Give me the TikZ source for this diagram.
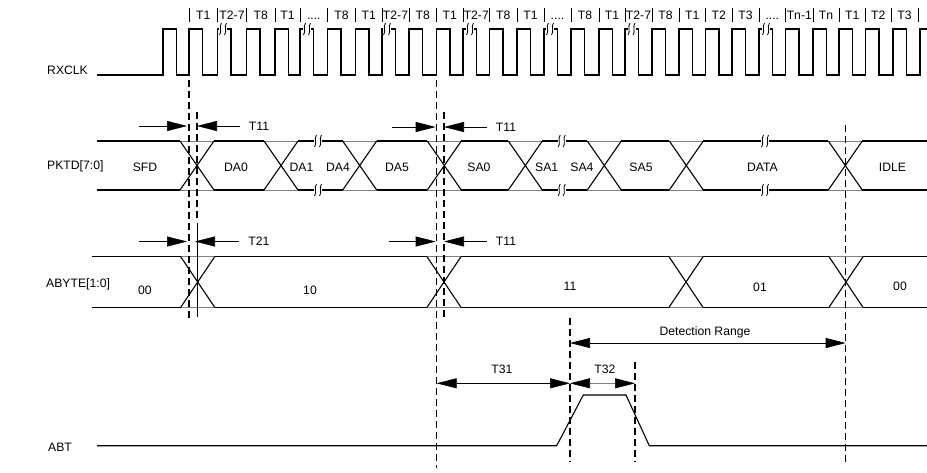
\documentclass[tikz,border=0pt]{standalone}
\usepackage{fontspec}
\setmainfont{Liberation Sans}
\usetikzlibrary{arrows.meta}

\newcommand{\skipdots}{....}

\begin{document}
\begin{tikzpicture}[x=1pt, y=-1pt,
    wire/.style={line width=1.1pt},
    guide/.style={line width=1.1pt, dash pattern=on 7pt off 4pt},
    dim/.style={line width=0.6pt, -{Triangle[length=20pt, width=10pt]}},
    dims/.style={line width=0.6pt, {Triangle[length=20pt, width=10pt, color=black]}-{Triangle[length=20pt, width=10pt, color=black]}},
    lbl/.style={font=\fontsize{12.2}{14}\selectfont, inner sep=0pt},
    squiggle/.pic={
        \fill [white] (-4, -6) rectangle (4, 6);
        \draw [line width=0.8pt] (-3.5, 6) .. controls (-0.5, 2) and (-4.5, -2) .. (-1.5, -6);
        \draw [line width=0.8pt] (1.5, 6) .. controls (4.5, 2) and (0.5, -2) .. (3.5, -6);
    }]
    \useasboundingbox (0, 0) rectangle (927, 472);

    \node (rxclk) [lbl, anchor=west, at={(47, 70)}] {RXCLK};
    \node (pktd) [lbl, anchor=west, at={(47, 166)}] {PKTD[7:0]};
    \node (abyte) [lbl, anchor=west, at={(46, 284)}] {ABYTE[1:0]};
    \node (abt) [lbl, anchor=west, at={(48, 447)}] {ABT};

    \draw [wire] (97, 75) \foreach \r in {163, 189, 217.5, 246.5, 275, 300, 327.5, 355.5, 382, 409, 436.5, 463, 489.5, 517, 544, 571, 599, 625, 652, 679, 705.5, 732, 759, 785.5, 813, 839, 865.5, 893} { -- (\r, 75) -- (\r, 29) -- (\r + 13.5, 29) -- (\r + 13.5, 75) } -- (920, 75) -- (920, 29) -- (927, 29);
    \foreach \x in {223, 307, 387, 470, 550, 631.5, 766} \pic at (\x, 29) {squiggle};
    \foreach \x in {189, 217.5, 246.5, 275, 300, 327.5, 355.5, 382, 409, 436.5, 463, 489.5, 517, 544, 571, 599, 625, 652, 679, 705.5, 732, 759, 785.5, 813, 839, 865.5, 891, 918} \draw [line width=0.5pt] (\x, 8) -- (\x, 22);
    \foreach \x/\t [count=\i] in {203.3/T1, 232/T2-7, 260.8/T8, 287.5/T1, 313.8/\skipdots, 341.5/T8, 368.8/T1, 395.5/T2-7, 422.8/T8, 449.8/T1, 476.3/T2-7, 503.3/T8, 530.5/T1, 557.5/\skipdots, 585/T8, 612/T1, 638.5/T2-7, 665.5/T8, 692.3/T1, 718.8/T2, 745.5/T3, 772.3/\skipdots, 799.3/Tn-1, 826/Tn, 852.3/T1, 878.3/T2, 904.5/T3} \node (cyc-\i) [lbl, anchor=base, at={(\x, 19.5)}] {\t};

    \draw [gray, line width=0.5pt] (97, 141) -- (927, 141) (97, 190) -- (927, 190);
    \foreach \a/\b in {97/180, 214/264, 298/342.7, 376.7/427.3, 461.3/508.3, 542.3/587.3, 621.3/669.3, 703.3/828.3, 862.3/927} \draw [wire] (\a, 141) -- (\b, 141) (\a, 190) -- (\b, 190);
    \foreach \x in {180, 264, 342.7, 427.3, 508.3, 587.3, 669.3, 828.3} \draw [wire] (\x, 141) -- (\x + 34, 190) (\x, 190) -- (\x + 34, 141);
    \foreach \x in {318, 561.7, 765} { \pic at (\x, 141) {squiggle}; \pic at (\x, 190) {squiggle}; }

    \node (sfd) [lbl, at={(145, 167)}] {SFD};
    \node (da0) [lbl, at={(236, 167)}] {DA0};
    \node (da1) [lbl, at={(301.5, 167)}] {DA1};
    \node (da4) [lbl, at={(338, 167)}] {DA4};
    \node (da5) [lbl, at={(397, 167)}] {DA5};
    \node (sa0) [lbl, at={(479, 167)}] {SA0};
    \node (sa1) [lbl, at={(546.7, 167)}] {SA1};
    \node (sa4) [lbl, at={(582, 167)}] {SA4};
    \node (sa5) [lbl, at={(641, 167)}] {SA5};
    \node (data) [lbl, at={(762.5, 167)}] {DATA};
    \node (idle) [lbl, at={(892.5, 167)}] {IDLE};

    \draw [gray, line width=0.5pt] (92, 256.7) -- (927, 256.7) (92, 307.3) -- (927, 307.3);
    \foreach \a/\b in {92/180.7, 214.7/427, 461/669, 703/829, 863/927} \draw [wire] (\a, 256.7) -- (\b, 256.7) (\a, 307.3) -- (\b, 307.3);
    \foreach \x in {180.7, 427, 669, 829} \draw [wire] (\x, 256.7) -- (\x + 34, 307.3) (\x, 307.3) -- (\x + 34, 256.7);
    \draw [line width=0.8pt] (197.7, 223) -- (197.7, 317);

    \node (v00) [lbl, at={(145, 290)}] {00};
    \node (v10) [lbl, at={(310, 290)}] {10};
    \node (v11) [lbl, at={(570, 286)}] {11};
    \node (v01) [lbl, at={(760, 287)}] {01};
    \node (v00-end) [lbl, at={(900, 286)}] {00};

    \coordinate (ta) at (189, 80);
    \coordinate (tb) at (197, 112);
    \coordinate (tc) at (436.7, 80);
    \coordinate (td) at (444, 112);
    \coordinate (te) at (845.7, 125);
    \coordinate (tf) at (570, 318);
    \coordinate (tg) at (635, 362);
    \draw [guide] (ta) -- ++(0, 238);
    \draw [guide] (tb) -- ++(0, 106);
    \draw [guide] (tc) -- ++(0, 388);
    \draw [guide] (td) -- ++(0, 208);
    \draw [guide] (te) -- ++(0, 340);
    \draw [guide] (tf) -- ++(0, 144);
    \draw [guide] (tg) -- ++(0, 100);

    \node (t11-sfd) [lbl, at={(259, 126)}] {T11};
    \node (t11-sa0) [lbl, at={(506, 127)}] {T11};
    \node (t21) [lbl, at={(259, 241.5)}] {T21};
    \node (t11-abyte) [lbl, at={(506, 241.5)}] {T11};
    \draw [dim] (ta |- t11-sfd) ++(-50, 0) -- ++(48, 0);
    \draw [dim] ([xshift=-9pt]t11-sfd.west) -- (tb |- t11-sfd);
    \draw [dim] (tc |- t11-sa0) ++(-45, 0) -- ++(44, 0);
    \draw [dim] ([xshift=-9pt]t11-sa0.west) -- (td |- t11-sa0);
    \draw [dim] (ta |- t21) ++(-50, 0) -- ++(48, 0);
    \draw [dim, shorten >=-2pt] ([xshift=-9pt]t21.west) -- (tb |- t21);
    \draw [dim] (tc |- t11-abyte) ++(-48, 0) -- ++(47, 0);
    \draw [dim] ([xshift=-9pt]t11-abyte.west) -- (td |- t11-abyte);

    \coordinate (range-row) at (0, 343);
    \coordinate (pulse-row) at (0, 383.3);
    \node (range) [lbl, at={(705, 332)}] {Detection Range};
    \node (t31) [lbl, at={(502, 369)}] {T31};
    \node (t32) [lbl, at={(605, 369)}] {T32};
    \draw [dims] (tf |- range-row) -- (te |- range-row);
    \draw [dims] (tc |- pulse-row) -- (tf |- pulse-row);
    \draw [dims, gray] (tf |- pulse-row) -- (tg |- pulse-row);

    \draw [wire] (97, 445.7) -- (556.7, 445.7) -- (583.3, 395) -- (626, 395) -- (649.3, 445.7) -- (927, 445.7);
\end{tikzpicture}
\end{document}
